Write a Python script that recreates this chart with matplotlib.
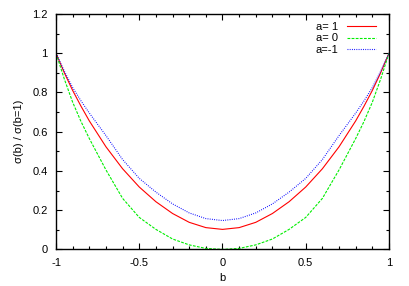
import matplotlib.pyplot as plt
from matplotlib.ticker import MultipleLocator

plt.rcParams['font.family'] = ['Liberation Sans', 'DejaVu Sans']

# valores
b = [-1.0, -0.95, -0.9, -0.85, -0.8, -0.7, -0.6, -0.5, -0.4, -0.3, -0.2, -0.1, 0.0,
     0.1, 0.2, 0.3, 0.4, 0.5, 0.6, 0.7, 0.8, 0.85, 0.9, 0.95, 1.0]
a_pos1 = [1.0, 0.9, 0.81, 0.73, 0.655, 0.523, 0.411, 0.318, 0.243, 0.183, 0.138, 0.111, 0.102,
          0.111, 0.138, 0.183, 0.243, 0.318, 0.411, 0.523, 0.655, 0.73, 0.81, 0.9, 1.0]
a_zero = [1.0, 0.868, 0.75, 0.652, 0.565, 0.405, 0.26, 0.163, 0.102, 0.053, 0.023, 0.005, 0.0,
          0.005, 0.023, 0.053, 0.102, 0.163, 0.26, 0.405, 0.565, 0.652, 0.75, 0.868, 1.0]
a_neg1 = [1.0, 0.908, 0.825, 0.757, 0.695, 0.58, 0.458, 0.362, 0.292, 0.232, 0.186, 0.157, 0.147,
          0.157, 0.186, 0.232, 0.292, 0.362, 0.458, 0.58, 0.695, 0.757, 0.825, 0.908, 1.0]

fig = plt.figure(figsize=(4.09, 2.86), dpi=100)
ax = fig.add_axes([0.137, 0.128, 0.814, 0.823])

ax.plot(b, a_pos1, color='#ff0000', lw=0.8, ls='-', label='a= 1')
ax.plot(b, a_zero, color='#00ee00', lw=0.8, ls=(0, (2.5, 1.2)), label='a= 0')
ax.plot(b, a_neg1, color='#0000ff', lw=0.8, ls=(0, (0.8, 1.2)), label='a=-1')

ax.set_xlim(-1, 1)
ax.set_ylim(0, 1.2)
ax.set_xticks([-1, -0.5, 0, 0.5, 1])
ax.set_xticklabels(['-1', '-0.5', '0', '0.5', '1'])
ax.set_yticks([0, 0.2, 0.4, 0.6, 0.8, 1.0, 1.2])
ax.set_yticklabels(['0', '0.2', '0.4', '0.6', '0.8', '1', '1.2'])
ax.xaxis.set_minor_locator(MultipleLocator(0.1))
ax.yaxis.set_minor_locator(MultipleLocator(0.1))
ax.tick_params(which='both', direction='in', top=True, right=True, labelsize=8, width=0.8)
ax.tick_params(which='major', length=4, pad=6)
ax.tick_params(which='minor', length=2)
for s in ax.spines.values():
    s.set_linewidth(1.0)

ax.set_xlabel('b', fontsize=8, labelpad=4)
ax.set_ylabel('σ(b) / σ(b=1)', fontsize=8, labelpad=6)

ax.legend(loc='upper right', frameon=False, markerfirst=False, fontsize=8,
          handlelength=2.6, handletextpad=0.8, labelspacing=0.15,
          borderaxespad=0.3, bbox_to_anchor=(0.985, 1.0))

plt.savefig('out.png', dpi=100)
